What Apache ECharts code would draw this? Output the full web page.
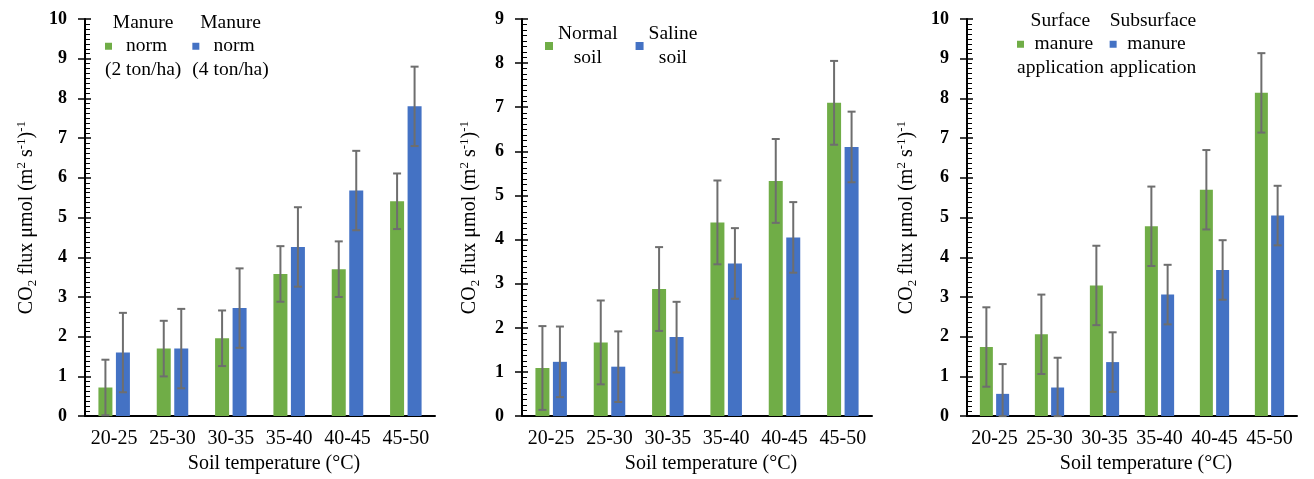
<!DOCTYPE html>
<html>
<head>
<meta charset="utf-8">
<script src="https://cdn.jsdelivr.net/npm/echarts@6/dist/echarts.min.js"></script>
<style>
html,body{margin:0;padding:0;background:#fff;}
#chart{width:1314px;height:479px;}
</style>
</head>
<body>
<div id="chart"></div>
<script>
// ---------- data ----------
const categories = ['20-25', '25-30', '30-35', '35-40', '40-45', '45-50'];

// Panel 1: manure norm
const p1Names = ['Manure norm (2 ton/ha)', 'Manure norm (4 ton/ha)'];
const p1LegendLines = [['Manure', 'norm', '(2 ton/ha)'], ['Manure', 'norm', '(4 ton/ha)']];
const p1Green = [0.72, 1.70, 1.96, 3.58, 3.70, 5.41];
const p1GreenErr = [0.70, 0.70, 0.70, 0.70, 0.70, 0.70];
const p1Blue = [1.60, 1.70, 2.72, 4.26, 5.68, 7.80];
const p1BlueErr = [1.00, 1.00, 1.00, 1.00, 1.00, 1.00];

// Panel 2: soil type
const p2Names = ['Normal soil', 'Saline soil'];
const p2LegendLines = [['Normal', 'soil'], ['Saline', 'soil']];
const p2Green = [1.09, 1.67, 2.88, 4.39, 5.33, 7.10];
const p2GreenErr = [0.95, 0.95, 0.95, 0.95, 0.95, 0.95];
const p2Blue = [1.23, 1.12, 1.79, 3.46, 4.05, 6.10];
const p2BlueErr = [0.80, 0.80, 0.80, 0.80, 0.80, 0.80];

// Panel 3: application method
const p3Names = ['Surface manure application', 'Subsurface manure application'];
const p3LegendLines = [['Surface', 'manure', 'application'], ['Subsurface', 'manure', 'application']];
const p3Green = [1.74, 2.06, 3.29, 4.78, 5.70, 8.14];
const p3GreenErr = [1.00, 1.00, 1.00, 1.00, 1.00, 1.00];
const p3Blue = [0.56, 0.72, 1.36, 3.06, 3.68, 5.05];
const p3BlueErr = [0.75, 0.75, 0.75, 0.75, 0.75, 0.75];

const yMax = [10, 9, 10];
const xTitle = 'Soil temperature (°C)';

// ---------- styles ----------
const GREEN = '#70AD47', BLUE = '#4472C4', ERR = '#6e6e6e';
const FONT = 'Liberation Serif';

const grids = [
  { left: 85, top: 19, width: 350, height: 400 },
  { left: 522, top: 19, width: 350, height: 400 },
  { left: 967, top: 19, width: 330, height: 400 }
];
const barW = [14, 14, 13];
const gapRatio = 0.25;
const nameGaps = [46, 40, 48];

const yNameRich = {
  m: { fontFamily: FONT, fontSize: 20, color: '#000', lineHeight: 24, verticalAlign: 'middle' },
  sub: { fontFamily: FONT, fontSize: 13, color: '#000', lineHeight: 13, verticalAlign: 'bottom' },
  sup: { fontFamily: FONT, fontSize: 13, color: '#000', lineHeight: 13, verticalAlign: 'top' }
};
const yName = '{m|CO}{sub|2}{m| flux μmol (m}{sup|2}{m| s}{sup|-1}{m|)}{sup|-1}';

const xAxes = grids.map((g, i) => ({
  type: 'category', gridIndex: i, data: categories,
  axisLine: { show: true, lineStyle: { color: '#000', width: 2 } },
  axisTick: { show: false },
  axisLabel: { color: '#000', fontFamily: FONT, fontSize: 20, margin: 13, interval: 0 },
  name: xTitle, nameLocation: 'middle', nameGap: 36,
  nameTextStyle: { color: '#000', fontFamily: FONT, fontSize: 20, padding: [0, 0, 0, 28] },
  splitLine: { show: false }
}));

const yAxes = [];
grids.forEach((g, i) => {
  yAxes.push({
    type: 'value', gridIndex: i, min: 0, max: yMax[i], interval: 1,
    axisLine: { show: true, lineStyle: { color: '#000', width: 2 } },
    axisTick: { show: true, inside: true, length: 6, lineStyle: { color: '#000', width: 1.5 } },
    minorTick: { show: true, splitNumber: 8, length: 5, lineStyle: { color: '#000', width: 1 } },
    splitLine: { show: false }, minorSplitLine: { show: false },
    axisLabel: { color: '#000', fontFamily: FONT, fontSize: 18, fontWeight: 'bold', margin: 18 },
    name: yName, nameLocation: 'middle', nameGap: nameGaps[i], nameRotate: 90,
    nameTextStyle: { fontFamily: FONT, fontSize: 20, color: '#000', rich: yNameRich }
  });
});
grids.forEach((g, i) => {
  yAxes.push({
    type: 'value', gridIndex: i, min: 0, max: yMax[i], interval: 1, position: 'left',
    axisLine: { show: false },
    axisTick: { show: true, inside: false, length: 7, lineStyle: { color: '#000', width: 1.5 } },
    splitLine: { show: false },
    axisLabel: { show: false }
  });
});

function barSeries(name, gi, data, color) {
  return {
    name, type: 'bar', xAxisIndex: gi, yAxisIndex: gi, data,
    barWidth: barW[gi], barGap: (gapRatio * 100) + '%',
    itemStyle: { color }, z: 2, animation: false
  };
}
function errSeries(name, gi, vals, errs, side) {
  const offset = side * (barW[gi] * (1 + gapRatio)) / 2;
  return {
    name, type: 'custom', xAxisIndex: gi, yAxisIndex: gi,
    data: vals.map((v, k) => [k, v, errs[k]]),
    encode: { x: 0, y: 1 }, z: 5, animation: false, silent: true,
    renderItem: function (params, api) {
      const k = api.value(0), v = api.value(1), e = api.value(2);
      const hi = api.coord([k, v + e]);
      const lo = api.coord([k, Math.max(0, v - e)]);
      const x = hi[0] + offset;
      const st = { stroke: ERR, lineWidth: 2 };
      return {
        type: 'group', children: [
          { type: 'line', shape: { x1: x, y1: hi[1], x2: x, y2: lo[1] }, style: st },
          { type: 'line', shape: { x1: x - 4, y1: hi[1], x2: x + 4, y2: hi[1] }, style: st },
          { type: 'line', shape: { x1: x - 4, y1: lo[1], x2: x + 4, y2: lo[1] }, style: st }
        ]
      };
    }
  };
}

const lineStyle = { fontFamily: FONT, fontSize: 19.5, color: '#000', align: 'center' };
function richLegend(left, top, names, lines, lh, gap) {
  const lookup = {};
  names.forEach((n, k) => { lookup[n] = { lines: lines[k], sq: k === 0 ? 'sqG' : 'sqB' }; });
  return {
    show: true, left, top, padding: 0, itemGap: gap, orient: 'horizontal',
    data: names, icon: 'rect', itemWidth: 1, itemHeight: 1,
    itemStyle: { opacity: 0 }, selectedMode: false,
    formatter: function (n) {
      const d = lookup[n];
      return d.lines.map((t, j) => (j === 1 ? '{' + d.sq + '|}' : '') + '{c|' + t + '}').join('\n');
    },
    textStyle: {
      color: '#000', fontFamily: FONT, fontSize: 19.5, lineHeight: lh,
      rich: {
        c: Object.assign({ lineHeight: lh }, lineStyle),
        sqG: { width: 7, height: 7, backgroundColor: GREEN, align: 'left', lineHeight: lh },
        sqB: { width: 7, height: 7, backgroundColor: BLUE, align: 'left', lineHeight: lh }
      }
    }
  };
}
function iconLegend(left, top, names, lines, lh, gap) {
  const lookup = {};
  names.forEach((n, k) => { lookup[n] = lines[k]; });
  return {
    show: true, left, top, padding: 0, itemGap: gap, orient: 'horizontal',
    data: names, icon: 'rect', itemWidth: 8, itemHeight: 8, selectedMode: false,
    formatter: function (n) { return lookup[n].map(t => '{c|' + t + '}').join('\n'); },
    textStyle: {
      color: '#000', fontFamily: FONT, fontSize: 19.5, lineHeight: lh,
      rich: { c: Object.assign({ lineHeight: lh }, lineStyle) }
    }
  };
}

const option = {
  backgroundColor: '#fff',
  animation: false,
  textStyle: { fontFamily: FONT },
  grid: grids.map(g => Object.assign({ containLabel: false }, g)),
  xAxis: xAxes,
  yAxis: yAxes,
  legend: [
    richLegend(99, 11, p1Names, p1LegendLines, 23.5, 5),
    iconLegend(545, 22, p2Names, p2LegendLines, 24, 18),
    richLegend(1011, 9, p3Names, p3LegendLines, 23.5, 0)
  ],
  series: [
    barSeries(p1Names[0], 0, p1Green, GREEN),
    barSeries(p1Names[1], 0, p1Blue, BLUE),
    errSeries(p1Names[0] + ' err', 0, p1Green, p1GreenErr, -1),
    errSeries(p1Names[1] + ' err', 0, p1Blue, p1BlueErr, 1),
    barSeries(p2Names[0], 1, p2Green, GREEN),
    barSeries(p2Names[1], 1, p2Blue, BLUE),
    errSeries(p2Names[0] + ' err', 1, p2Green, p2GreenErr, -1),
    errSeries(p2Names[1] + ' err', 1, p2Blue, p2BlueErr, 1),
    barSeries(p3Names[0], 2, p3Green, GREEN),
    barSeries(p3Names[1], 2, p3Blue, BLUE),
    errSeries(p3Names[0] + ' err', 2, p3Green, p3GreenErr, -1),
    errSeries(p3Names[1] + ' err', 2, p3Blue, p3BlueErr, 1)
  ]
};
const chart = echarts.init(document.getElementById('chart'), null, { renderer: 'canvas' });
chart.setOption(option);
</script>
</body>
</html>
